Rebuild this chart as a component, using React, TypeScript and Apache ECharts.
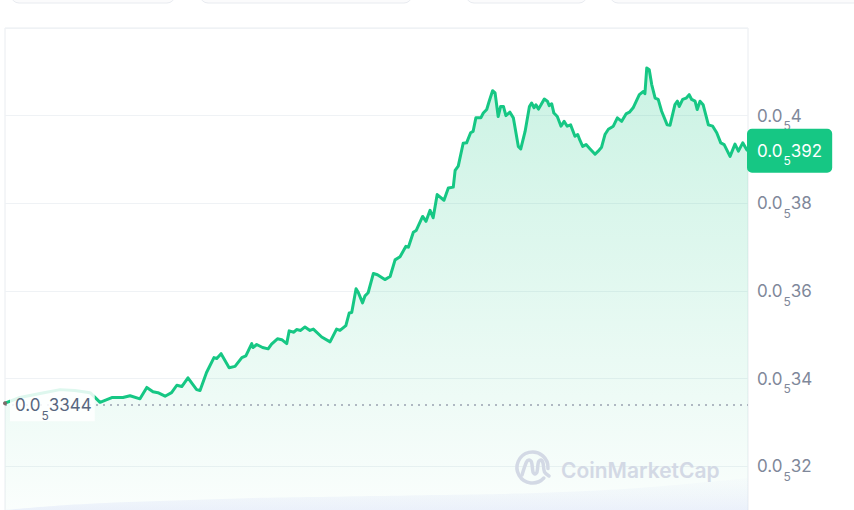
import React, { useEffect, useRef } from "react";
import * as echarts from "echarts";

// hours since open (24h window)
const hours = [0,0.48,1.13,1.78,2.26,2.75,3.07,3.45,3.81,4.04,4.36,4.58,4.78,4.94,5.17,5.38,5.55,5.71,5.91,6.19,6.30,6.51,6.75,6.84,6.98,7.24,7.43,7.65,7.78,7.97,8.01,8.13,8.32,8.50,8.61,8.80,8.94,9.10,9.18,9.33,9.42,9.55,9.69,9.85,9.96,10.23,10.50,10.71,10.82,11.01,11.12,11.20,11.34,11.41,11.55,11.63,11.73,11.90,12.03,12.27,12.44,12.60,12.76,12.95,13.03,13.19,13.28,13.49,13.60,13.73,13.83,13.96,14.18,14.32,14.48,14.54,14.64,14.80,14.91,15.04,15.12,15.21,15.37,15.45,15.56,15.64,15.75,15.83,15.93,16.01,16.10,16.18,16.31,16.42,16.58,16.66,16.80,16.94,17.01,17.09,17.15,17.23,17.30,17.42,17.52,17.58,17.66,17.73,17.84,17.96,18.06,18.16,18.27,18.41,18.50,18.57,18.66,18.77,18.90,19.06,19.16,19.27,19.38,19.49,19.65,19.78,19.92,20.06,20.17,20.29,20.49,20.62,20.67,20.73,20.81,20.89,21.00,21.10,21.21,21.39,21.48,21.64,21.72,21.78,21.89,22.00,22.10,22.18,22.29,22.36,22.45,22.55,22.72,22.86,22.99,23.12,23.23,23.42,23.58,23.69,23.83,23.96,24.00];

// price in units of 1e-6 (0.0₅xxx)
const prices = [3.344,3.357,3.366,3.375,3.373,3.368,3.346,3.357,3.357,3.361,3.354,3.380,3.370,3.368,3.360,3.368,3.385,3.382,3.402,3.375,3.373,3.414,3.448,3.446,3.457,3.425,3.428,3.448,3.452,3.480,3.471,3.478,3.471,3.468,3.479,3.491,3.489,3.480,3.509,3.506,3.512,3.510,3.518,3.510,3.513,3.495,3.484,3.513,3.510,3.521,3.550,3.551,3.605,3.597,3.573,3.589,3.596,3.640,3.637,3.626,3.633,3.671,3.678,3.702,3.700,3.734,3.738,3.770,3.759,3.784,3.767,3.820,3.807,3.835,3.837,3.875,3.885,3.937,3.938,3.961,3.964,3.995,3.995,4.006,4.014,4.033,4.057,4.052,3.998,4.021,4.021,4.000,4.008,3.995,3.930,3.924,3.964,4.021,4.029,4.018,4.025,4.015,4.023,4.038,4.033,4.023,4.027,4.006,3.998,3.976,3.987,3.976,3.979,3.953,3.957,3.944,3.930,3.934,3.924,3.912,3.919,3.928,3.957,3.969,3.976,3.995,3.987,4.004,4.008,4.018,4.048,4.055,4.050,4.109,4.105,4.071,4.040,4.037,4.010,3.979,3.978,4.025,4.033,4.021,4.037,4.040,4.048,4.037,4.033,4.014,4.033,4.025,3.979,3.976,3.961,3.938,3.934,3.907,3.935,3.919,3.938,3.922,3.920];

const openPrice = 3.344;
const lastPrice = 3.92;
const yTicks = { min: 3.0, max: 4.2, interval: 0.2 };

const volumeHours = [0, 2, 4, 6, 8, 10, 12, 14, 16, 18, 20, 22, 24];
const volumes = [0, 5, 8, 10, 12, 13, 14, 15, 16, 18, 21, 26, 32];

const GREEN = "#16c784";
const FONT = "Inter, 'Noto Sans', sans-serif";

function fmt(v: number) {
  const s = Number(v.toFixed(4)).toString().replace(".", "");
  return `{a|0.0}{s|5}{a|${s}}`;
}

function rich(color: string) {
  return {
    a: { fontSize: 17, fontFamily: FONT, color, lineHeight: 20 },
    s: { fontSize: 12, fontFamily: FONT, color, lineHeight: 12, padding: [20, 0, 0, 1] },
  };
}

export default function App() {
  const ref = useRef<HTMLDivElement>(null);
  useEffect(() => {
    if (!ref.current) return;
    const chart = echarts.init(ref.current, null, { renderer: "svg" });
    const priceData = hours.map((h, i) => [h, prices[i]]);
    const volData = volumeHours.map((h, i) => [h, volumes[i]]);
    chart.setOption({
      animation: false,
      backgroundColor: "#ffffff",
      grid: [
        { left: 5, width: 743, top: 28, height: 526, show: true, borderColor: "#e9ecf0", borderWidth: 1, outerBoundsMode: "none", containLabel: false },
        { left: 5, width: 743, top: 470, height: 40, outerBoundsMode: "none", containLabel: false },
      ],
      xAxis: [
        { type: "value", gridIndex: 0, min: 0, max: 24, show: false },
        { type: "value", gridIndex: 1, min: 0, max: 24, show: false },
      ],
      yAxis: [
        {
          type: "value",
          gridIndex: 0,
          position: "right",
          min: yTicks.min,
          max: yTicks.max,
          interval: yTicks.interval,
          axisLine: { show: false },
          axisTick: { show: false },
          splitLine: { lineStyle: { color: "#eff2f5", width: 1 } },
          axisLabel: {
            margin: 9,
            showMaxLabel: false,
            showMinLabel: false,
            formatter: (v: number) => fmt(v),
            rich: rich("#7f889a"),
          },
        },
        { type: "value", gridIndex: 1, min: 0, max: 40, show: false },
      ],
      graphic: [
        { type: "rect", shape: { x: 11, y: -20, width: 164, height: 23, r: 8 }, style: { fill: "#fbfbfc", stroke: "#e8ebf0", lineWidth: 1 } },
        { type: "rect", shape: { x: 200, y: -20, width: 212, height: 23, r: 8 }, style: { fill: "#fbfbfc", stroke: "#e8ebf0", lineWidth: 1 } },
        { type: "rect", shape: { x: 466, y: -20, width: 121, height: 23, r: 8 }, style: { fill: "#fbfbfc", stroke: "#e8ebf0", lineWidth: 1 } },
        { type: "rect", shape: { x: 610, y: -20, width: 260, height: 23, r: 8 }, style: { fill: "#fbfbfc", stroke: "#e8ebf0", lineWidth: 1 } },
        {
          type: "arc",
          shape: { cx: 532.5, cy: 467.5, r: 15.5, startAngle: 0.75, endAngle: 6.35, clockwise: true },
          style: { stroke: "#d3d9e5", lineWidth: 3.5, fill: "none", lineCap: "round" },
          z: 20,
        },
        {
          type: "polyline",
          shape: {
            points: [[522, 475], [526.5, 462], [529, 460], [531.5, 462], [533, 472], [535, 474], [537, 472], [538.5, 462], [541, 460], [543, 463], [544.5, 472], [549, 476]],
            smooth: 0.3,
          },
          style: { stroke: "#d3d9e5", lineWidth: 3.5, fill: "none", lineCap: "round", lineJoin: "round" },
          z: 20,
        },
        {
          type: "text",
          x: 561,
          y: 470,
          style: { text: "CoinMarketCap", fill: "#d3d9e5", font: `600 21px ${FONT}`, textVerticalAlign: "middle" },
          z: 20,
        },
      ],
      series: [
        {
          type: "line",
          xAxisIndex: 1,
          yAxisIndex: 1,
          data: volData,
          symbol: "none",
          smooth: 0.3,
          lineStyle: { width: 0 },
          areaStyle: {
            color: new echarts.graphic.LinearGradient(0, 0, 0, 1, [
              { offset: 0, color: "rgba(230,233,250,0.1)" },
              { offset: 1, color: "rgba(218,223,250,0.6)" },
            ]),
          },
          silent: true,
          z: 1,
        },
        {
          type: "line",
          data: priceData,
          symbol: "none",
          lineStyle: { color: GREEN, width: 3, join: "round" },
          itemStyle: { color: GREEN },
          areaStyle: {
            color: new echarts.graphic.LinearGradient(0, 0, 0, 1, [
              { offset: 0, color: "rgba(22,199,132,0.32)" },
              { offset: 1, color: "rgba(22,199,132,0.0)" },
            ]),
          },
          z: 3,
        },
        {
          type: "line",
          data: [],
          z: 5,
          markLine: {
            silent: true,
            symbol: ["none", "none"],
            data: [
              {
                yAxis: openPrice,
                lineStyle: { type: [2, 5], color: "#9aa2b1", width: 1.5 },
                label: { show: false },
              },
              {
                yAxis: lastPrice,
                lineStyle: { color: "rgba(0,0,0,0)", width: 1 },
                label: {
                  show: true,
                  position: "end",
                  distance: 1,
                  offset: [-2, 0],
                  formatter: () => fmt(lastPrice),
                  backgroundColor: GREEN,
                  borderRadius: 5,
                  padding: [12, 10, 12, 10],
                  rich: rich("#ffffff"),
                },
              },
            ],
          },
          markPoint: {
            silent: true,
            symbol: "circle",
            symbolSize: 4,
            itemStyle: { color: "#7d6a6a" },
            data: [
              {
                coord: [0, openPrice],
                label: {
                  show: true,
                  position: "right",
                  distance: 3,
                  formatter: () => fmt(openPrice),
                  backgroundColor: "rgba(255,255,255,0.86)",
                  padding: [10, 3, 6, 5],
                  rich: rich("#58667e"),
                },
              },
            ],
          },
        },
      ],
    });
    return () => chart.dispose();
  }, []);
  return <div ref={ref} style={{ position: "absolute", left: 0, top: 0, width: 854, height: 510 }} />;
}
